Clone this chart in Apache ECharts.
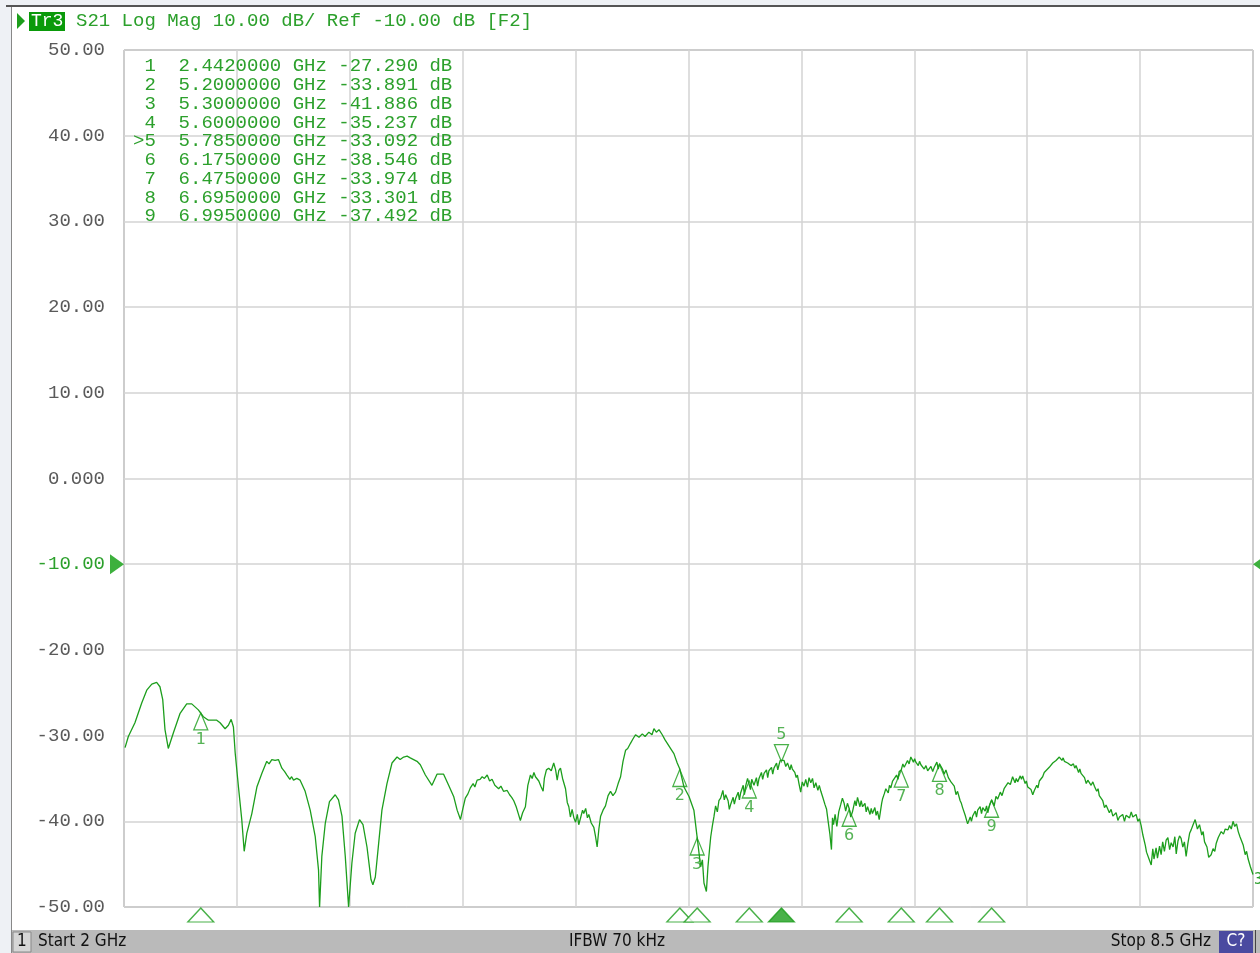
<!DOCTYPE html>
<html>
<head>
<meta charset="utf-8">
<script src="https://cdn.jsdelivr.net/npm/echarts@6/dist/echarts.min.js"></script>
<style>
  html, body { margin: 0; padding: 0; background: #eef1f5; }
  #chart { width: 1260px; height: 953px; }
</style>
</head>
<body>
<div id="chart"></div>
<script>
// trace S21: [frequency GHz, dB]
const tracePoints = [
  [2.006, -31.4], [2.025, -30.1], [2.063, -28.5], [2.102, -26.2], [2.131, -24.7], [2.160, -24.0], [2.188, -23.8],
  [2.207, -24.3], [2.223, -25.8], [2.236, -29.3], [2.255, -31.5], [2.284, -29.7], [2.323, -27.4], [2.361, -26.3],
  [2.390, -26.3], [2.428, -27.0], [2.457, -27.8], [2.486, -28.2], [2.534, -28.2], [2.553, -28.5], [2.582, -29.2],
  [2.601, -28.8], [2.617, -28.1], [2.630, -29.0], [2.640, -32.0], [2.659, -36.0], [2.678, -39.8], [2.692, -43.5],
  [2.707, -41.4], [2.736, -39.1], [2.765, -36.0], [2.794, -34.4], [2.822, -33.0], [2.835, -33.3], [2.851, -32.8],
  [2.870, -32.9], [2.889, -32.8], [2.909, -33.8], [2.925, -34.2], [2.938, -34.6], [2.955, -35.1], [2.965, -34.8],
  [2.976, -35.2], [2.995, -35.0], [3.014, -35.2], [3.043, -36.5], [3.072, -38.7], [3.101, -41.8], [3.120, -45.7],
  [3.126, -50.0], [3.139, -44.1], [3.159, -40.2], [3.183, -37.7], [3.216, -36.9], [3.235, -37.5], [3.255, -39.4],
  [3.274, -44.1], [3.293, -50.0], [3.312, -44.9], [3.331, -41.4], [3.356, -39.8], [3.376, -40.4], [3.399, -43.0],
  [3.422, -46.8], [3.433, -47.4], [3.447, -46.5], [3.466, -42.6], [3.485, -38.7], [3.514, -35.6], [3.543, -33.2],
  [3.572, -32.5], [3.590, -32.8], [3.610, -32.5], [3.630, -32.4], [3.648, -32.6], [3.687, -33.0], [3.706, -33.4],
  [3.735, -34.6], [3.773, -35.8], [3.802, -34.5], [3.840, -34.5], [3.869, -35.8], [3.898, -37.1], [3.918, -38.7],
  [3.937, -39.8], [3.950, -38.6], [3.965, -37.3], [3.980, -36.8], [3.994, -36.1], [4.010, -35.6], [4.020, -36.0],
  [4.033, -35.2], [4.050, -35.1], [4.062, -34.8], [4.075, -35.0], [4.091, -34.6], [4.105, -35.3], [4.119, -35.1],
  [4.135, -35.8], [4.145, -35.6], [4.157, -36.2], [4.170, -35.9], [4.185, -36.5], [4.206, -36.4], [4.220, -36.9],
  [4.232, -37.2], [4.244, -37.6], [4.258, -38.3], [4.270, -39.1], [4.282, -39.9], [4.295, -39.0], [4.311, -38.3],
  [4.325, -35.8], [4.340, -34.6], [4.350, -35.0], [4.360, -34.3], [4.369, -34.8], [4.380, -34.6], [4.388, -35.3],
  [4.400, -35.9], [4.413, -36.5], [4.420, -35.0], [4.432, -34.0], [4.445, -33.8], [4.460, -34.1], [4.474, -33.2],
  [4.485, -34.0], [4.494, -35.2], [4.503, -34.1], [4.513, -33.8], [4.525, -35.0], [4.542, -36.2], [4.552, -37.8],
  [4.561, -38.3], [4.570, -39.5], [4.580, -38.6], [4.590, -39.6], [4.600, -40.1], [4.610, -39.2], [4.618, -40.4],
  [4.630, -39.5], [4.640, -38.7], [4.647, -39.1], [4.658, -38.5], [4.668, -39.6], [4.676, -39.2], [4.690, -40.2],
  [4.705, -40.7], [4.715, -41.8], [4.724, -43.0], [4.734, -40.9], [4.744, -39.4], [4.758, -38.7], [4.772, -38.2],
  [4.787, -37.0], [4.801, -36.5], [4.815, -37.0], [4.830, -36.6], [4.845, -35.6], [4.859, -34.8], [4.873, -33.0],
  [4.888, -31.7], [4.900, -31.5], [4.916, -30.9], [4.930, -30.4], [4.945, -29.9], [4.965, -30.2], [4.984, -29.8],
  [5.000, -30.1], [5.022, -29.6], [5.040, -29.9], [5.051, -29.2], [5.065, -29.6], [5.080, -29.3], [5.099, -29.9],
  [5.115, -30.5], [5.128, -30.9], [5.150, -31.6], [5.166, -32.1], [5.185, -33.2], [5.200, -33.9], [5.224, -36.0],
  [5.253, -37.1], [5.281, -38.7], [5.300, -41.9], [5.320, -45.3], [5.330, -44.5], [5.339, -47.2], [5.353, -48.2],
  [5.362, -45.3], [5.370, -43.5], [5.378, -41.8], [5.387, -40.6], [5.397, -39.4], [5.406, -38.2], [5.416, -38.9],
  [5.425, -37.6], [5.435, -37.3], [5.448, -36.4], [5.456, -37.5], [5.464, -36.9], [5.478, -37.6], [5.485, -38.6],
  [5.493, -38.0], [5.507, -37.2], [5.514, -38.0], [5.522, -37.3], [5.536, -36.6], [5.543, -37.5], [5.550, -36.7],
  [5.565, -35.8], [5.572, -36.9], [5.579, -35.9], [5.590, -35.0], [5.600, -35.2], [5.607, -36.3], [5.614, -35.1],
  [5.627, -35.8], [5.641, -34.9], [5.648, -35.9], [5.656, -35.0], [5.670, -34.3], [5.677, -35.1], [5.685, -34.4],
  [5.699, -34.0], [5.706, -34.9], [5.713, -34.1], [5.728, -33.7], [5.735, -34.5], [5.742, -33.8], [5.757, -33.2],
  [5.764, -34.0], [5.771, -33.4], [5.778, -32.9], [5.785, -33.1], [5.800, -32.9], [5.810, -33.6], [5.820, -33.2],
  [5.834, -34.0], [5.841, -33.4], [5.848, -33.9], [5.862, -34.3], [5.870, -34.9], [5.877, -34.6], [5.886, -35.6],
  [5.896, -36.6], [5.905, -35.4], [5.915, -35.9], [5.925, -35.1], [5.935, -36.0], [5.944, -34.9], [5.954, -35.5],
  [5.964, -35.0], [5.973, -36.1], [5.983, -35.5], [5.995, -36.4], [6.003, -35.8], [6.012, -36.5], [6.023, -37.2],
  [6.035, -38.0], [6.045, -38.6], [6.054, -40.0], [6.064, -41.5], [6.073, -43.3], [6.079, -39.6], [6.085, -40.4],
  [6.094, -39.2], [6.104, -40.6], [6.115, -38.9], [6.127, -38.0], [6.136, -37.3], [6.146, -37.9], [6.155, -38.8],
  [6.165, -37.9], [6.175, -38.5], [6.184, -39.5], [6.194, -38.9], [6.208, -37.6], [6.215, -38.2], [6.223, -37.2],
  [6.237, -38.3], [6.244, -37.6], [6.252, -38.3], [6.266, -37.9], [6.273, -38.9], [6.281, -38.3], [6.295, -39.2],
  [6.302, -38.5], [6.309, -39.1], [6.323, -38.4], [6.330, -39.3], [6.338, -38.8], [6.348, -39.8], [6.357, -39.6],
  [6.362, -37.9], [6.367, -37.4], [6.377, -36.8], [6.386, -36.2], [6.400, -36.7], [6.407, -35.8], [6.415, -36.1],
  [6.425, -35.3], [6.434, -35.5], [6.448, -34.6], [6.456, -35.1], [6.463, -34.2], [6.475, -34.0], [6.484, -33.3],
  [6.492, -33.7], [6.511, -32.9], [6.520, -33.3], [6.530, -32.5], [6.545, -33.1], [6.552, -32.7], [6.559, -33.1],
  [6.573, -33.5], [6.580, -33.0], [6.588, -33.4], [6.607, -33.9], [6.617, -33.5], [6.627, -34.1], [6.646, -33.6],
  [6.656, -34.2], [6.665, -33.7], [6.680, -33.1], [6.688, -33.9], [6.695, -33.3], [6.712, -33.9], [6.722, -34.5],
  [6.732, -34.0], [6.746, -34.9], [6.754, -34.7], [6.761, -35.4], [6.780, -35.9], [6.790, -36.9], [6.799, -36.5],
  [6.814, -37.6], [6.821, -37.9], [6.828, -38.4], [6.843, -39.3], [6.850, -39.8], [6.857, -40.3], [6.872, -39.5],
  [6.879, -40.0], [6.886, -39.4], [6.901, -38.8], [6.908, -39.5], [6.915, -38.7], [6.929, -38.3], [6.937, -39.1],
  [6.944, -38.4], [6.958, -38.8], [6.966, -38.2], [6.973, -39.0], [6.985, -38.0], [6.995, -37.5], [7.010, -38.2],
  [7.020, -37.1], [7.030, -37.4], [7.045, -36.6], [7.055, -37.0], [7.067, -36.2], [7.078, -36.3], [7.090, -35.5],
  [7.103, -35.7], [7.116, -34.8], [7.130, -35.5], [7.137, -35.0], [7.145, -35.4], [7.160, -34.7], [7.167, -35.1],
  [7.174, -34.7], [7.188, -35.6], [7.195, -35.3], [7.203, -36.0], [7.222, -36.3], [7.232, -36.9], [7.241, -36.4],
  [7.255, -35.8], [7.262, -36.1], [7.270, -35.3], [7.289, -34.8], [7.298, -34.3], [7.308, -34.4], [7.327, -33.7],
  [7.337, -33.9], [7.347, -33.2], [7.366, -32.9], [7.375, -32.7], [7.385, -32.5], [7.400, -32.9], [7.407, -32.6],
  [7.414, -33.0], [7.433, -33.2], [7.442, -33.0], [7.452, -33.5], [7.466, -33.3], [7.474, -33.8], [7.481, -33.5],
  [7.496, -34.3], [7.503, -33.9], [7.510, -34.4], [7.530, -34.9], [7.540, -35.6], [7.549, -35.2], [7.568, -35.8],
  [7.578, -35.4], [7.587, -35.9], [7.600, -36.5], [7.608, -36.2], [7.615, -37.0], [7.635, -37.6], [7.645, -38.4],
  [7.654, -38.1], [7.673, -39.0], [7.683, -38.6], [7.693, -39.4], [7.712, -39.0], [7.722, -39.9], [7.731, -39.5],
  [7.750, -39.2], [7.760, -40.0], [7.769, -39.3], [7.789, -39.6], [7.799, -38.9], [7.808, -39.5], [7.827, -39.2],
  [7.837, -40.0], [7.846, -39.7], [7.856, -40.5], [7.866, -41.6], [7.880, -42.8], [7.887, -43.6], [7.895, -43.5],
  [7.905, -44.6], [7.914, -45.1], [7.923, -43.2], [7.930, -44.4], [7.942, -43.1], [7.950, -44.3], [7.962, -42.9],
  [7.971, -43.9], [7.980, -42.4], [7.990, -43.5], [8.000, -42.2], [8.010, -41.9], [8.020, -43.3], [8.029, -42.5],
  [8.040, -43.0], [8.050, -41.8], [8.058, -43.8], [8.068, -42.3], [8.077, -41.7], [8.086, -42.0], [8.096, -43.0],
  [8.105, -42.4], [8.115, -44.1], [8.125, -42.6], [8.135, -41.4], [8.144, -41.0], [8.155, -40.4], [8.167, -39.8],
  [8.180, -40.9], [8.192, -40.4], [8.205, -41.6], [8.213, -41.2], [8.221, -42.4], [8.235, -43.0], [8.245, -44.2],
  [8.259, -43.9], [8.270, -43.2], [8.280, -43.5], [8.288, -42.6], [8.300, -41.9], [8.310, -42.1], [8.317, -41.2],
  [8.330, -41.5], [8.340, -40.9], [8.356, -41.0], [8.365, -40.5], [8.375, -40.9], [8.385, -40.0], [8.395, -40.6],
  [8.405, -40.3], [8.415, -41.2], [8.425, -41.8], [8.435, -42.0], [8.444, -42.8], [8.455, -43.9], [8.463, -43.5],
  [8.472, -44.4], [8.485, -45.3], [8.500, -46.2]
];

// markers
const markerNames = ['1', '2', '3', '4', '5', '6', '7', '8', '9'];
const markerFreq = [2.442, 5.2, 5.3, 5.6, 5.785, 6.175, 6.475, 6.695, 6.995];
const markerDb = [-27.290, -33.891, -41.886, -35.237, -33.092, -38.546, -33.974, -33.301, -37.492];
const activeMarker = 4;

// sweep / scale
const startGHz = 2;
const stopGHz = 8.5;
const refLevel = -10;
const yMin = -50, yMax = 50, yStep = 10;

const green = '#1c9e1c';
const textGreen = '#2ca02c';
const mono = '"Liberation Mono", "DejaVu Sans Mono", monospace';
const narrow = '"Liberation Sans Narrow", "DejaVu Sans Condensed", "Liberation Sans", sans-serif';

const myChart = echarts.init(document.getElementById('chart'));

// marker table text
let tableLines = markerNames.map((n, i) => {
  let pre = (i === activeMarker ? '>' : ' ') + n;
  let f = markerFreq[i].toFixed(7);
  let d = markerDb[i].toFixed(3);
  return pre + '  ' + f + ' GHz ' + d + ' dB';
});

let onTrace = markerNames.map((n, i) => {
  let act = i === activeMarker;
  return {
    value: [markerFreq[i], markerDb[i]],
    name: n,
    symbol: act ? 'path://M0,0L10,0L5,12Z' : 'path://M5,0L10,12L0,12Z',
    symbolOffset: act ? [0, -9] : [0, 9],
    label: { position: act ? 'top' : 'bottom', distance: 1 }
  };
});

let bottomMarks = markerNames.map((n, i) => ({
  value: [markerFreq[i], 1],
  itemStyle: { color: i === activeMarker ? green : '#fff' }
}));

myChart.setOption({
  animation: false,
  backgroundColor: '#eef1f5',
  graphic: [
    { type: 'rect', shape: { x: 12, y: 7, width: 1248, height: 923 }, style: { fill: '#fff' }, z: -10 },
    { type: 'line', shape: { x1: 6, y1: 6, x2: 1260, y2: 6 }, style: { stroke: '#555', lineWidth: 2 }, z: -9 },
    { type: 'line', shape: { x1: 11.5, y1: 7, x2: 11.5, y2: 953 }, style: { stroke: '#888', lineWidth: 1 }, z: -9 },
    // trace header
    { type: 'polygon', shape: { points: [[17, 13], [25, 21], [17, 29]] }, style: { fill: green } },
    { type: 'rect', shape: { x: 29, y: 12, width: 36, height: 19 }, style: { fill: '#0a9a0a' } },
    { type: 'text', x: 31, y: 21, style: { text: 'Tr3', font: '18px ' + mono, fill: '#fff', textVerticalAlign: 'middle' } },
    { type: 'text', x: 76, y: 21, style: { text: 'S21 Log Mag 10.00 dB/ Ref -10.00 dB [F2]', font: '19px ' + mono, fill: textGreen, textVerticalAlign: 'middle' } },
    // marker table
    { type: 'text', x: 133, y: 57, z: 20, style: { text: tableLines.join('\n'), font: '19px ' + mono, fill: textGreen, lineHeight: 18.75 } },
    // trace number at right edge
    { type: 'text', x: 1254, y: 880, style: { text: '3', font: '15px ' + narrow, fill: textGreen, textVerticalAlign: 'middle' } },
    // status bar
    { type: 'rect', shape: { x: 12, y: 930, width: 1248, height: 23 }, style: { fill: '#bababa' } },
    { type: 'rect', shape: { x: 13, y: 932, width: 18, height: 20 }, style: { fill: '#d6d6d6', stroke: '#8a8a8a', lineWidth: 1 } },
    { type: 'text', x: 17, y: 942, style: { text: '1', font: '17px ' + narrow, fill: '#111', textVerticalAlign: 'middle' } },
    { type: 'text', x: 38, y: 942, style: { text: 'Start 2 GHz', font: '17px ' + narrow, fill: '#111', textVerticalAlign: 'middle' } },
    { type: 'text', x: 617, y: 942, style: { text: 'IFBW 70 kHz', font: '17px ' + narrow, fill: '#111', textAlign: 'center', textVerticalAlign: 'middle' } },
    { type: 'text', x: 1211, y: 942, style: { text: 'Stop 8.5 GHz', font: '17px ' + narrow, fill: '#111', textAlign: 'right', textVerticalAlign: 'middle' } },
    { type: 'rect', shape: { x: 1219, y: 931, width: 34, height: 22 }, style: { fill: '#4a4aa0' } },
    { type: 'text', x: 1236, y: 942, style: { text: 'C?', font: '17px ' + narrow, fill: '#fff', textAlign: 'center', textVerticalAlign: 'middle' } },
    { type: 'line', shape: { x1: 1255.5, y1: 930, x2: 1255.5, y2: 953 }, style: { stroke: '#444', lineWidth: 1 } }
  ],
  grid: [
    { left: 124, top: 50, width: 1129, height: 857, show: true, borderColor: '#7a7a7a', borderWidth: 1 },
    { left: 124, top: 908, width: 1129, height: 14 }
  ],
  xAxis: [
    // divisions (grid lines)
    {
      type: 'value', gridIndex: 0, min: 0, max: 10, interval: 1,
      axisLine: { show: false }, axisTick: { show: false }, axisLabel: { show: false },
      splitLine: { show: true, lineStyle: { color: '#d3d3d3', width: 1.5 } }
    },
    // frequency
    { type: 'value', gridIndex: 0, min: startGHz, max: stopGHz, show: false, splitLine: { show: false } },
    { type: 'value', gridIndex: 1, min: startGHz, max: stopGHz, show: false, splitLine: { show: false } }
  ],
  yAxis: [
    {
      type: 'value', gridIndex: 0, min: yMin, max: yMax, interval: yStep,
      axisLine: { show: false }, axisTick: { show: false },
      splitLine: { show: true, lineStyle: { color: '#d3d3d3', width: 1.5 } },
      axisLabel: {
        margin: 19,
        fontFamily: 'Liberation Mono, DejaVu Sans Mono, monospace',
        fontSize: 19,
        color: (v) => (Number(v) === refLevel ? textGreen : '#5a5a5a'),
        formatter: (v) => (v === 0 ? '0.000' : v.toFixed(2))
      }
    },
    { type: 'value', gridIndex: 1, min: 0, max: 1, show: false, splitLine: { show: false } }
  ],
  series: [
    {
      name: 'S21',
      type: 'line',
      xAxisIndex: 1,
      yAxisIndex: 0,
      data: tracePoints,
      showSymbol: false,
      lineStyle: { color: green, width: 1.3 },
      z: 5
    },
    {
      name: 'markers',
      type: 'scatter',
      xAxisIndex: 1,
      yAxisIndex: 0,
      data: onTrace,
      symbolSize: [14, 17],
      itemStyle: { color: 'rgba(255,255,255,0)', borderColor: green, borderWidth: 1.3 },
      label: {
        show: true,
        formatter: (p) => p.name,
        color: textGreen,
        fontFamily: 'DejaVu Sans, sans-serif',
        fontSize: 16
      },
      z: 6
    },
    {
      name: 'marker index',
      type: 'scatter',
      xAxisIndex: 2,
      yAxisIndex: 1,
      data: bottomMarks,
      symbol: 'path://M5,0L10,10L0,10Z',
      symbolSize: [26, 14],
      symbolOffset: [0, 7],
      clip: false,
      itemStyle: { borderColor: green, borderWidth: 1.3 },
      z: 6
    },
    {
      name: 'ref',
      type: 'scatter',
      xAxisIndex: 1,
      yAxisIndex: 0,
      clip: false,
      data: [
        { value: [startGHz, refLevel], symbol: 'path://M0,0L10,6L0,12Z', symbolOffset: [-7, 0] },
        { value: [stopGHz, refLevel], symbol: 'path://M10,0L0,6L10,12Z', symbolOffset: [7, 0] }
      ],
      symbolSize: [14, 20],
      itemStyle: { color: '#0c9c0c' },
      z: 7
    }
  ]
});
</script>
</body>
</html>
